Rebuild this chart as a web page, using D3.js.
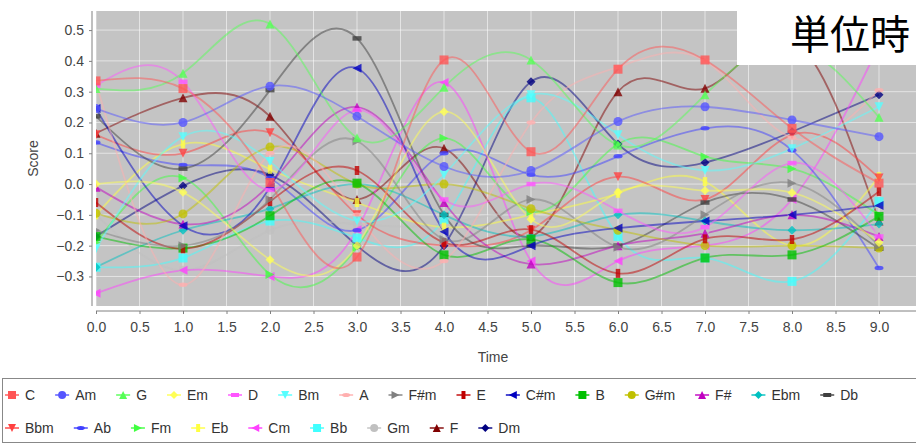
<!DOCTYPE html>
<html><head><meta charset="utf-8">
<script src="https://cdn.jsdelivr.net/npm/d3@7"></script>
<style>
html,body{margin:0;padding:0;background:#fff;}
svg{display:block;}
text{font-family:"Liberation Sans",Arial,sans-serif;}
</style></head>
<body><svg id="chart" width="916" height="445"></svg>
<script>
const times = [0,1,2,3,4,5,6,7,8,9];
const seriesNames = ["C","Am","G","Em","D","Bm","A","F#m","E","C#m","B","G#m","F#","Ebm","Db","Bbm","Ab","Fm","Eb","Cm","Bb","Gm","F","Dm"];
const sC   = [0.335, 0.31, 0.005, -0.237, 0.403, 0.105, 0.373, 0.403, 0.181, 0.003];
const sAm  = [0.245, 0.2, 0.318, 0.22, 0.057, 0.044, 0.203, 0.251, 0.208, 0.154];
const sG   = [0.31, 0.36, 0.52, 0.15, 0.314, 0.403, 0.127, 0.29, 0.45, 0.217];
const sEm  = [0.0, -0.027, -0.246, -0.2, 0.235, -0.114, -0.027, -0.021, -0.028, -0.19];
const sD   = [0.32, 0.332, -0.019, 0.24, -0.05, 0.0, -0.087, -0.14, 0.068, -0.17];
const sBm  = [-0.21, 0.154, 0.073, -0.12, 0.03, 0.29, 0.16, 0.044, 0.115, 0.251];
const sA   = [0.33, -0.327, 0.1, -0.1, -0.25, 0.2, 0.38, 0.40, 0.15, 0.305];
const sFsm = [-0.15, -0.2, -0.05, 0.14, -0.18, -0.05, -0.205, -0.1, 0.003, -0.2];
const sE   = [-0.06, -0.21, -0.057, 0.044, -0.19, -0.148, -0.29, -0.178, -0.18, -0.024];
const sCsm = [0.245, -0.135, -0.01, 0.376, -0.155, -0.2, -0.143, -0.12, -0.1, -0.07];
const sB   = [-0.17, -0.208, -0.103, 0.003, -0.23, -0.179, -0.32, -0.24, -0.23, -0.105];
const sGsm = [-0.095, -0.097, 0.12, 0.0, 0.0, -0.08, -0.15, -0.2, -0.2, -0.208];
const sFs  = [-0.01, -0.13, 0.0, 0.25, -0.06, -0.26, -0.2, -0.16, -0.1, -0.17];
const sEbm = [-0.27, -0.15, -0.08, 0.0, -0.1, -0.17, -0.1, -0.12, -0.15, -0.13];
const sDb  = [0.22, 0.05, 0.305, 0.473, -0.1, -0.2, -0.2, -0.06, -0.05, -0.21];
const sBbm = [0.16, 0.10, 0.167, -0.1, -0.2, -0.15, 0.024, -0.05, 0.16, 0.02];
const sAb  = [0.135, 0.062, 0.02, -0.15, 0.1, 0.03, 0.09, 0.181, 0.11, -0.273];
const sFm  = [-0.19, 0.02, -0.294, -0.205, 0.149, -0.09, 0.13, 0.089, 0.05, -0.1];
const sEb  = [-0.1, 0.13, 0.048, -0.06, -0.14, -0.1, -0.03, 0.008, -0.2, 0.024];
const sCm  = [-0.355, -0.28, -0.3, -0.148, 0.33, -0.25, -0.25, -0.2, -0.05, 0.45];
const sBb  = [-0.27, -0.24, -0.12, -0.175, -0.115, 0.28, -0.17, -0.24, -0.316, -0.057];
const sGm  = [-0.1, -0.28, -0.15, -0.13, -0.13, -0.1, -0.205, -0.15, -0.1, -0.15];
const sF   = [0.165, 0.28, 0.22, -0.05, 0.116, -0.17, 0.3, 0.311, 0.47, -0.12];
const sDm  = [-0.17, -0.006, 0.03, -0.2, -0.2, 0.332, 0.13, 0.07, 0.17, 0.29];
const seriesValues = [sC,sAm,sG,sEm,sD,sBm,sA,sFsm,sE,sCsm,sB,sGsm,sFs,sEbm,sDb,sBbm,sAb,sFm,sEb,sCm,sBb,sGm,sF,sDm];
const xTicks = [0,0.5,1,1.5,2,2.5,3,3.5,4,4.5,5,5.5,6,6.5,7,7.5,8,8.5,9];
const yTicks = [-0.3,-0.2,-0.1,0,0.1,0.2,0.3,0.4,0.5];
const colors = ["#FF5555","#5555FF","#55FF55","#FFFF55","#FF55FF","#55FFFF","#FFAFAF","#808080","#C00000","#0000C0","#00C000","#C0C000","#C000C0","#00C0C0","#404040","#FF4040","#4040FF","#40FF40","#FFFF40","#FF40FF","#40FFFF","#C0C0C0","#800000","#000080"];
const xTitle = "Time", yTitle = "Score", overlayText = "単位時";

const svg = d3.select("#chart");
const P = {left:96, right:916, top:11, bottom:306};
const x = d3.scaleLinear().domain([0, 9*(P.right-P.left)/(879-P.left)]).range([P.left, P.right]);
const y = d3.scaleLinear().domain([-0.396, 0.562]).range([P.bottom, P.top]);

svg.append("defs").append("clipPath").attr("id","clip")
  .append("rect").attr("x",P.left).attr("y",P.top).attr("width",P.right-P.left).attr("height",P.bottom-P.top);

svg.append("rect").attr("x",P.left).attr("y",P.top).attr("width",P.right-P.left).attr("height",P.bottom-P.top).attr("fill","#c4c4c4");

const grid = svg.append("g");
grid.selectAll(".vg").data(xTicks).join("line")
  .attr("x1",d=>x(d)).attr("x2",d=>x(d)).attr("y1",P.top).attr("y2",P.bottom)
  .attr("stroke","#fff").attr("stroke-width",1).attr("stroke-opacity",0.55);
grid.selectAll(".hg").data(yTicks).join("line")
  .attr("y1",d=>y(d)).attr("y2",d=>y(d)).attr("x1",P.left).attr("x2",P.right)
  .attr("stroke","#fff").attr("stroke-width",1).attr("stroke-opacity",0.55);

function shapePath(i, s){
  const h = s/2, q = s/4;
  switch(i % 10){
    case 0: return `M${-h},${-h}H${h}V${h}H${-h}Z`;
    case 1: return d3.symbol(d3.symbolCircle, Math.PI*h*h)();
    case 2: return `M0,${-h}L${h},${h}L${-h},${h}Z`;
    case 3: return `M0,${-h}L${h},0L0,${h}L${-h},0Z`;
    case 4: return `M${-h},${-q}H${h}V${q}H${-h}Z`;
    case 5: return `M${-h},${-h}L${h},${-h}L0,${h}Z`;
    case 6: return `M${-h},0A${h},${q} 0 1,0 ${h},0A${h},${q} 0 1,0 ${-h},0Z`;
    case 7: return `M${-h},${-h}L${h},0L${-h},${h}Z`;
    case 8: return `M${-q},${-h}H${q}V${h}H${-q}Z`;
    case 9: return `M${-h},0L${h},${-h}L${h},${h}Z`;
  }
}

const line = d3.line().x((d,i)=>x(times[i])).y(d=>y(d)).curve(d3.curveNatural);
const plotG = svg.append("g").attr("clip-path","url(#clip)");
const order = d3.range(seriesNames.length).reverse();
order.forEach(si=>{
  plotG.append("path").attr("d", line(seriesValues[si])).attr("fill","none")
    .attr("stroke",colors[si]).attr("stroke-width",1.8).attr("stroke-opacity",0.5);
});
order.forEach(si=>{
  plotG.append("g").selectAll("path").data(seriesValues[si]).join("path")
    .attr("d", shapePath(si, 9))
    .attr("transform",(d,i)=>`translate(${x(times[i])},${y(d)})`)
    .attr("fill",colors[si]).attr("fill-opacity",0.8);
});

const axisColor = "#808080", labelColor = "#444";
const yAxis = svg.append("g").attr("transform",`translate(${P.left-4},0)`)
  .call(d3.axisLeft(y).tickValues(yTicks).tickFormat(d3.format(".1f")).tickSizeOuter(0).tickSizeInner(3).tickPadding(5));
const xAxis = svg.append("g").attr("transform",`translate(0,${P.bottom+5})`)
  .call(d3.axisBottom(x).tickValues(xTicks).tickFormat(d3.format(".1f")).tickSizeOuter(0).tickSizeInner(3).tickPadding(8));
[xAxis,yAxis].forEach(a=>{
  a.select(".domain").attr("stroke",axisColor);
  a.selectAll(".tick line").attr("stroke",axisColor);
  a.selectAll(".tick text").attr("fill",labelColor).style("font-size","14px").style("font-family","'Liberation Sans',Arial,sans-serif");
});
yAxis.select(".domain").attr("d",`M0,${P.top}V${P.bottom}`);
xAxis.select(".domain").attr("d",`M${P.left},0H${P.right}`);

svg.append("text").attr("x",493).attr("y",362).attr("text-anchor","middle")
  .attr("fill",labelColor).style("font-size","14px").text(xTitle);
svg.append("text").attr("transform",`translate(38,${(P.top+P.bottom)/2}) rotate(-90)`).attr("text-anchor","middle")
  .attr("fill",labelColor).style("font-size","14px").text(yTitle);

svg.append("rect").attr("x",2.5).attr("y",378.5).attr("width",930).attr("height",64)
  .attr("fill","#fff").attr("stroke","#888");
const rows = [seriesNames.slice(0,15), seriesNames.slice(15)];
let idx = 0;
rows.forEach((row, r)=>{
  let x0 = 5;
  const cy = r===0 ? 395 : 428;
  row.forEach(name=>{
    const si = idx++;
    const g = svg.append("g");
    g.append("line").attr("x1",x0).attr("x2",x0+14).attr("y1",cy).attr("y2",cy)
      .attr("stroke",colors[si]).attr("stroke-width",2).attr("stroke-opacity",0.7);
    g.append("path").attr("d",shapePath(si,8)).attr("transform",`translate(${x0+7},${cy})`).attr("fill",colors[si]);
    const t = g.append("text").attr("x",x0+20).attr("y",cy+5).attr("fill","#333").style("font-size","14px").text(name);
    const w = t.node().getComputedTextLength();
    x0 = x0 + 20 + w + 20;
  });
});

svg.append("rect").attr("x",737).attr("y",0).attr("width",179).attr("height",65).attr("fill","#fff");
svg.append("text").attr("x",790).attr("y",49).attr("fill","#000")
  .style("font-family","'Noto Sans CJK JP',sans-serif").style("font-size","40px").text(overlayText);
</script></body></html>
